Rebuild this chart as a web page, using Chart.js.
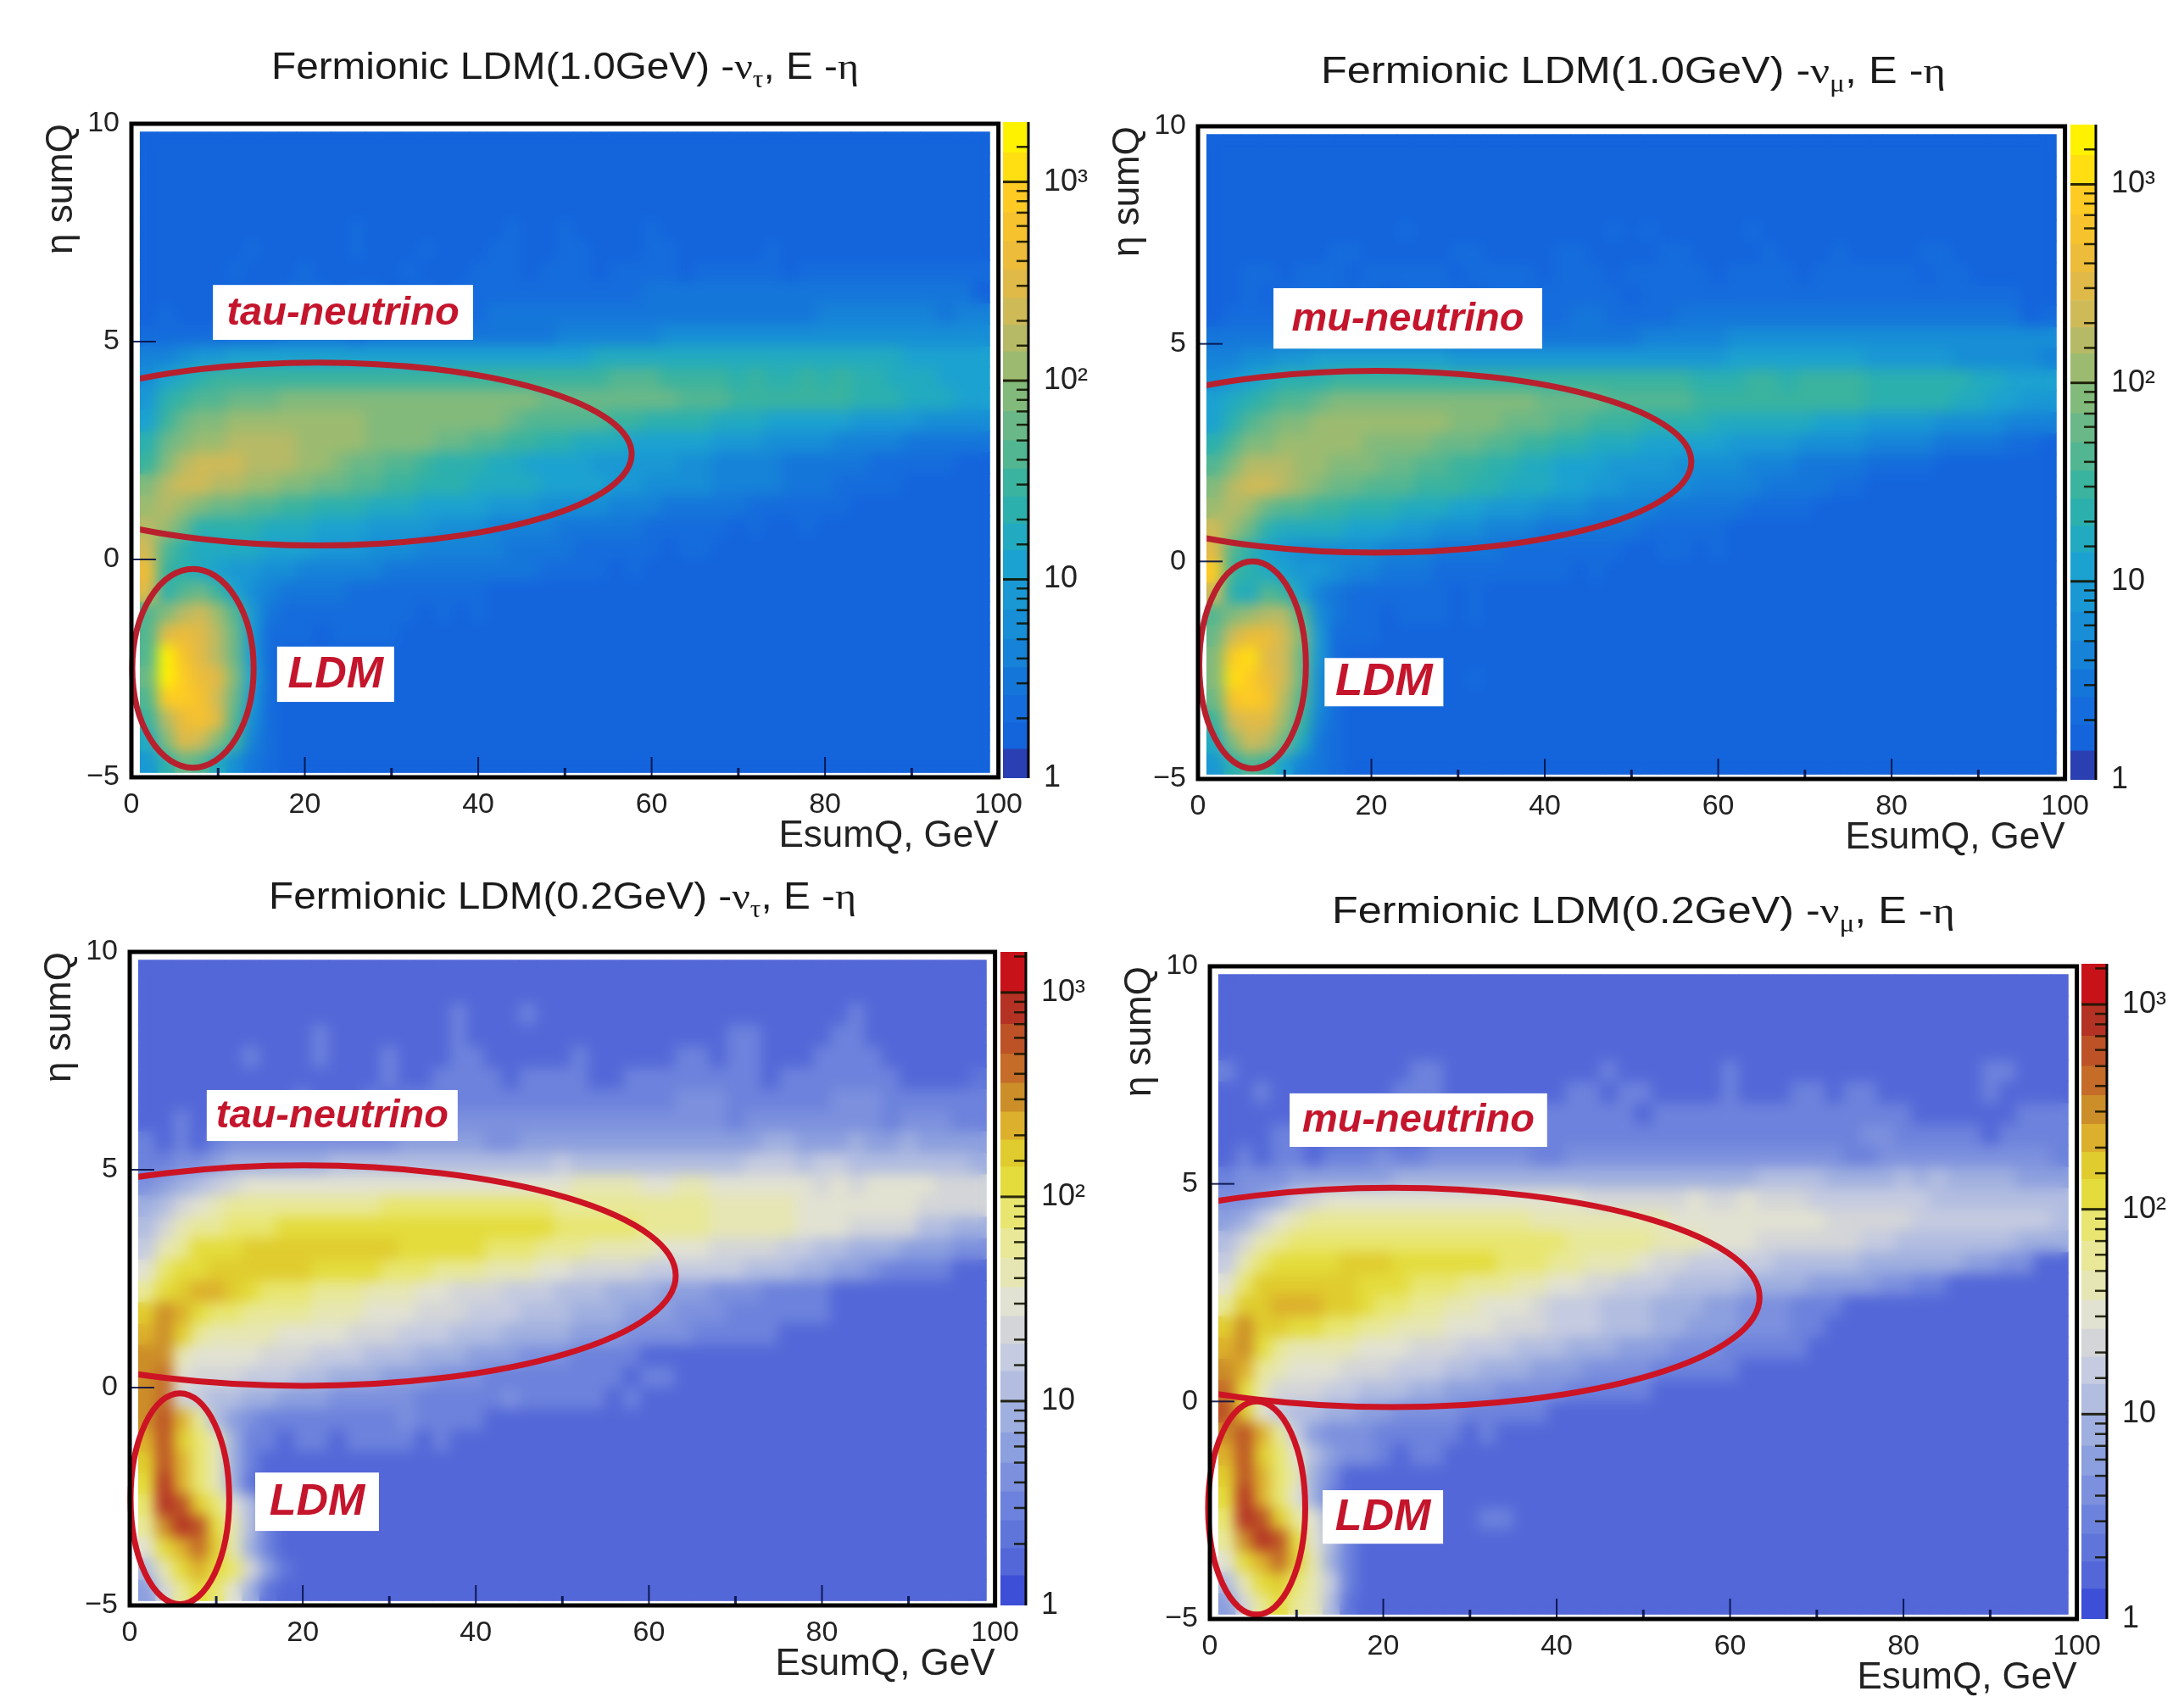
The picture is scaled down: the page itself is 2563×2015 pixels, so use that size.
<!DOCTYPE html>
<html>
<head>
<meta charset="utf-8">
<title>Fermionic LDM, E - eta</title>
<script src="https://cdn.jsdelivr.net/npm/chart.js@4"></script>
<style>
  html, body { margin: 0; padding: 0; background: #fff; }
  #page { position: relative; width: 2563px; height: 2015px; overflow: hidden; }
  canvas { position: absolute; }
  .title { position: absolute; white-space: nowrap; font: 44px "Liberation Sans", sans-serif; color: #1a1a1a; transform-origin: left center; line-height: 50px; }
  .title i { font-family: "Liberation Serif", serif; font-style: normal; }
  .title sub { font-size: 29px; font-family: "Liberation Serif", serif; line-height: 0; }
</style>
</head>
<body>
<div id="page"></div>
<script>
// bin centres (GeV) and bin edges (eta) of the 2D histograms
const energyBins = [2,4,6,8,10,12,14,16,18,20,22,24,26,28,30,32,34,36,38,40,42,44,46,48,50,52,54,56,58,60,62,64,66,68,70,72,74,76,78,80,82,84,86,88,90,92,94,96,98];
const etaEdges = [-4.9,-4.41,-3.92,-3.43,-2.94,-2.45,-1.96,-1.47,-0.98,-0.49,0,0.49,0.98,1.47,1.96,2.45,2.94,3.43,3.92,4.41,4.9,5.39,5.88,6.37,6.86,7.35,7.84,8.33,8.82,9.31,9.8];

// colour bar bands: counts per bin, and the colour of each band
const bandEdges = [1,1.4,1.9,2.6,3.6,5,7,10,14,19,26,36,50,70,100,140,190,260,360,500,700,1000,1400,2000];
const heavyPalette = ['#2a40b2','#1464dc','#156cdc','#1576da','#1682d8','#178ed6','#1a98d4','#1ca2d0','#22aac0','#2cb0ae','#3ab39f','#52b692','#6ab888','#82ba7c','#9cbb70','#b6ba66','#cfba58','#e0ba48','#ecbc3a','#f6c22e','#fdcb24','#ffde12','#fff200'];
const lightPalette = ['#3d4fd6','#5367d8','#5f75da','#6c82dc','#7c90de','#8c9fde','#9fafdf','#b2bde0','#c5cbe0','#d3d5d8','#e2e2d2','#e6e6b4','#e8e898','#e8e670','#e4dc3c','#e0cc2e','#dcb02c','#cc8e28','#c46c28','#bc5226','#b43224','#c8121a','#c8121a'];

// histogram contents as colour band per bin, top row first ('.' is band 1, a = 10 ... m = 22)
const tauHeavyRows = [
  '','','','',
  '............2........2..2....2',
  '......2.....2...2...22..22...22.....2',
  '.....2...2.....2...222.222.2222.22222.22222222222',
  '........222.22..2.222222222223333333333333333333',
  '.2...2..22222222222233333333333333333334444444344',
  '2222222233332333333333334444445555555555555555555',
  '4456677777777777777777777788888888888888888877777',
  '5789aaaaaaaaaaaaaaaaaaaaaaabbbaaaa9a99a9a99888777',
  '69abbcccdddddddddddddddccccccccbbbaaaaaaa99988877',
  '7acddeeeeeeeeddddddddcbbbbbaa99998887777766665555',
  '9cdeeffffeeeeddddccbbaa99888777776665555444433333',
  'adfgggfffeedccbba999887777666665544443333322222',
  'dfggffeeddccbbaa9998888777766555544443332222',
  'efedccbbaa9998887777666555544433333222222',
  'fec9999888777666655544443333322222.2..2',
  'gb9888877766655544444333322222.22',
  'ia9876655444443333333332222.2',
  'h9bca754333322222222',
  'bdfgeb6322222222.2.2',
  'bhihfc6222.2222',
  'bmjhfc62',
  'cmkihd72',
  'bkkjgc62',
  'afijhb52',
  '8dhgda42',
  '69cb8532'
];
const muHeavyRows = [
  '','','','',
  '...........2...........2.2.....2',
  '.......22.....22....22....22....2...2....22',
  '..22.222.22222.2222.222.22222.2222.222222.22',
  '..2.222222.2222.22222222.2222222222222222222222',
  '.2222222222222223222233222233333333333333333333.2',
  '3333333333333333333333333444445555555555555555555',
  '4455667777777766666666666666667777777766666555554',
  '5678999aaaaaaaaaaaaaaaaaaaaa999aa9aaaa99999988777',
  '789abbcddddddddddddccccbbbbbaaaaaaaaaa99999887766',
  '79bcddeeeeeeeedddcccbbaaa999988888877766665555444',
  '9bddeeeeeddddcccbbaa9988877777666655554444333322',
  'bdfffeedddccbbaa99887776666555544433332222',
  'dfggfedccbbbaaa99888776655554444333322',
  'efecbbaa999888776665554444333332222',
  'gec988887776655544433333322222',
  'hb9765555544433332222222..22.2',
  'ka9876654433322222222.2',
  'g98ba743222222.2',
  'bdeffb5322.222.2',
  'cgiigd6222',
  'dklhgc62',
  'dlkigc52.......2',
  'cjkjfb52',
  'aghhea42',
  '8dgfc832',
  '69ba7432'
];
const tauLightRows = [
  '','',
  '..................3...3..................3',
  '..........3.......3...............33....33',
  '......3...3...3...33.....3.....33.33...3333',
  '..............3..3333.3333..33333333.3333333....2',
  '.........3...3.3333333333333333444333333444333333',
  '..3..33.33.33.44344444444444444444344444444344433',
  '3.3.344444444445555544555555555555556655565565555',
  '3344566666677777777777778777777777788878877777776',
  '456789aaaaaaaaaaaaaaaaaaabbbbaabbaaaaaa9a9aaaa999',
  '679abcccccccccddddddddddcccccccccbbbbbaaaaaaa9999',
  '79bccdddeeeeeeeeeeeeeeeedddddccccbbbbbaaa99997766',
  '8bceeefffffffffeeeeedddcccbbbbaaa9999887766655544',
  'adeeffffffeeeedddcccbbbaa9999888888777665543333',
  'cefggfedddcccbbbaa9998887776665554443333',
  'fhgeddccccbbbaaa999888777666555444333333',
  'ghfcbbbbaaaa9998887776666555444433333',
  'hhbaaaa9998887776665554443333',
  'hia9998887766655544433333333.33',
  'hi9877665554444433333433333.3',
  'hjgc7543333333343333',
  'gjfdb633.33.3333.3',
  'fjgdb63',
  'ekgdb62',
  'dkjfda73',
  'chkjeb73',
  'aegifb63',
  '7beged952',
  '59ceda62'
];
const muLightRows = [
  '','','','',
  '3..........33.........3......3..............33',
  '..3.......333.......33.33....3...33.33......3',
  '.........3.......3333333.333333333333333......333',
  '...33.......33333333333333333333333334433333.3333',
  '.3.33.3334334444443344444444444444443344444444443',
  '3444555555666666666666666666666777766667676666555',
  '445689aaaaaaaaaaaaaaa999999a99a999888888877777777',
  '568abcccccccccccccbbbbbbbbaaaaaaaaa99999888888887',
  '79bcddddddddddddddddcccccbbbaaa999999887777777666',
  '8bdeeeefffeeeeeedddccbbba9988888777776666665544',
  'adffffffeeedddcccbbaa998887777666655554433',
  'cffgggffeddccbbaaa988877766655444333',
  'fhffeeddccbbbaaa9998887776655544433',
  'ghecbbbbaaa99988877766655544433333',
  'hgcbaaa99988877666555444433333',
  'ieb9998877766555444433333',
  'jfa8776655444433333',
  'hjgc8544433333.3',
  'gjfda75443.33',
  'fjgdb64',
  'ekgda63',
  'dkjfca63.......33',
  'chkjea73',
  'aegifb63',
  '7befdb83',
  '59cecb72'
];

const yTickLabels = { '-5': '\u22125', '0': '0', '5': '5', '10': '10' };
const barTickLabels = { 1: '1', 10: '10', 100: '10\u00b2', 1000: '10\u00b3' };

const FONT = '"Liberation Sans", sans-serif';
const page = document.getElementById('page');

function makeCanvas(left, top, width, height) {
  const c = document.createElement('canvas');
  c.width = width;
  c.height = height;
  c.style.left = left + 'px';
  c.style.top = top + 'px';
  c.style.width = width + 'px';
  c.style.height = height + 'px';
  page.appendChild(c);
  return c;
}

function rowDatasets(rows, palette) {
  return rows.map((row, i) => {
    const lo = etaEdges[rows.length - 1 - i];
    const hi = etaEdges[rows.length - i];
    const levels = energyBins.map((_, k) => {
      const ch = row[k];
      return !ch || ch === '.' ? 1 : parseInt(ch, 36);
    });
    return {
      data: energyBins.map(x => ({ x, y: [lo, hi + 0.02] })),
      backgroundColor: levels.map(l => palette[l]),
      borderWidth: 0,
      borderSkipped: false,
      categoryPercentage: 1,
      barPercentage: 1.03,
      grouped: false
    };
  });
}

// smooths the bins, then puts the ellipses, labels, ticks and frame on top
const decorPlugin = {
  id: 'decor',
  afterDatasetsDraw(chart, args, opts) {
    const { ctx, canvas, scales: { x, y }, chartArea: a } = chart;
    const off = document.createElement('canvas');
    off.width = canvas.width;
    off.height = canvas.height;
    off.getContext('2d').drawImage(canvas, 0, 0);
    const hx = x.getPixelForValue(1) , hy = y.getPixelForValue(9.8);
    const hw = x.getPixelForValue(99) - hx, hh = y.getPixelForValue(-4.9) - hy;
    ctx.save();
    ctx.beginPath();
    ctx.rect(hx, hy, hw, hh);
    ctx.clip();
    ctx.filter = 'blur(' + opts.blur + 'px)';
    ctx.drawImage(off, 0, 0);
    ctx.restore();

    // ticks point into the plot
    ctx.save();
    ctx.strokeStyle = 'rgba(5,15,70,0.9)';
    ctx.lineWidth = 2;
    x.ticks.forEach(t => {
      const px = x.getPixelForValue(t.value);
      if (t.value === 0 || t.value === 100) return;
      ctx.lineWidth = t.value % 20 === 0 ? 2 : 3;
      ctx.beginPath();
      ctx.moveTo(px, a.bottom);
      ctx.lineTo(px, a.bottom - (t.value % 20 === 0 ? 24 : 11));
      ctx.stroke();
    });
    ctx.lineWidth = 2;
    [0, 5].forEach(v => {
      const py = y.getPixelForValue(v);
      ctx.beginPath();
      ctx.moveTo(a.left, py);
      ctx.lineTo(a.left + 29, py);
      ctx.stroke();
    });
    ctx.restore();

    opts.ellipses.forEach(e => {
      const cx = x.getPixelForValue(e.cx), cy = y.getPixelForValue(e.cy);
      ctx.save();
      ctx.beginPath();
      ctx.rect(e.clip ? hx : 0, 0, canvas.width, canvas.height);
      ctx.clip();
      ctx.beginPath();
      ctx.ellipse(cx, cy, x.getPixelForValue(e.cx + e.rx) - cx, cy - y.getPixelForValue(e.cy + e.ry), 0, 0, Math.PI * 2);
      ctx.strokeStyle = opts.ringColor;
      ctx.lineWidth = 7;
      ctx.stroke();
      ctx.restore();
    });

    opts.labels.forEach(l => {
      const x0 = x.getPixelForValue(l.x0), x1 = x.getPixelForValue(l.x1);
      const y0 = y.getPixelForValue(l.y0), y1 = y.getPixelForValue(l.y1);
      ctx.save();
      ctx.fillStyle = '#fff';
      ctx.fillRect(x0, y0, x1 - x0, y1 - y0);
      ctx.fillStyle = '#c4152c';
      ctx.font = 'italic bold ' + l.size + 'px ' + FONT;
      ctx.textAlign = 'center';
      ctx.textBaseline = 'middle';
      ctx.fillText(l.text, (x0 + x1) / 2, (y0 + y1) / 2 + 1);
      ctx.restore();
    });

    ctx.save();
    ctx.strokeStyle = '#000';
    ctx.lineWidth = 5;
    ctx.strokeRect(a.left, a.top, a.right - a.left, a.bottom - a.top);
    ctx.restore();
  }
};

// minor and major log ticks of the colour bar, drawn inside it
const barTicksPlugin = {
  id: 'barTicks',
  afterDatasetsDraw(chart) {
    const { ctx, scales: { y }, chartArea: a } = chart;
    ctx.save();
    ctx.strokeStyle = 'rgba(20,20,0,0.9)';
    y.ticks.forEach(t => {
      const py = y.getPixelForValue(t.value);
      const major = barTickLabels[t.value] !== undefined;
      if (t.value === 1 || t.value === y.max) return;
      ctx.lineWidth = major ? 3 : 2.5;
      ctx.beginPath();
      ctx.moveTo(a.right, py);
      ctx.lineTo(major ? a.left : a.right - 14, py);
      ctx.stroke();
    });
    ctx.strokeStyle = '#000';
    ctx.lineWidth = 3;
    ctx.beginPath();
    ctx.moveTo(a.right, a.top);
    ctx.lineTo(a.right, a.bottom);
    ctx.stroke();
    ctx.restore();
  }
};

function drawPanel(p) {
  const L = 140, T = 40, R = 30, B = 115;
  const w = p.x100 - p.x0, h = p.yBottom - p.yTop;
  const canvas = makeCanvas(p.x0 - L, p.yTop - T, w + L + R, h + T + B);
  new Chart(canvas, {
    type: 'bar',
    data: { datasets: rowDatasets(p.rows, p.palette) },
    plugins: [decorPlugin],
    options: {
      responsive: false,
      animation: false,
      parsing: { xAxisKey: 'x', yAxisKey: 'y' },
      layout: { padding: { top: T, right: R, left: 0, bottom: 0 } },
      plugins: {
        legend: { display: false },
        tooltip: { enabled: false },
        decor: { blur: 8, ellipses: p.ellipses, labels: p.labels, ringColor: p.ringColor }
      },
      scales: {
        x: {
          type: 'linear', min: 0, max: 100, offset: false,
          afterFit(s) { s.height = B; },
          grid: { display: false, offset: false },
          border: { display: false },
          ticks: {
            stepSize: 10, autoSkip: false, maxRotation: 0, padding: 4,
            color: '#222', font: { family: FONT, size: 34 },
            callback: v => (v % 20 === 0 ? String(v) : '')
          },
          title: {
            display: true, text: 'EsumQ, GeV', align: 'end', color: '#222',
            font: { family: FONT, size: 44 }, padding: { top: 0, bottom: 19 }
          }
        },
        y: {
          type: 'linear', min: -5, max: 10,
          afterFit(s) { s.width = L; },
          grid: { display: false },
          border: { display: false },
          ticks: {
            stepSize: 5, padding: 6, color: '#222', font: { family: FONT, size: 34 },
            callback: v => yTickLabels[v]
          },
          title: {
            display: true, text: '\u03b7 sumQ', align: 'end', color: '#222',
            font: { family: FONT, size: 44 }, padding: { top: 31, bottom: 0 }
          }
        }
      }
    }
  });

  const barW = p.barRight - p.barLeft, barH = p.barBottom - p.barTop;
  const barCanvas = makeCanvas(p.barLeft, p.barTop - 50, barW + 90, barH + 100);
  const bands = p.palette.map((c, i) => ({
    data: [[bandEdges[i], bandEdges[i + 1]]],
    backgroundColor: c,
    borderWidth: 0,
    borderSkipped: false,
    categoryPercentage: 1,
    barPercentage: 1,
    grouped: false
  }));
  new Chart(barCanvas, {
    type: 'bar',
    data: { labels: ['counts'], datasets: bands },
    plugins: [barTicksPlugin],
    options: {
      responsive: false,
      animation: false,
      layout: { padding: { top: 50, bottom: 50, left: 0, right: 0 } },
      plugins: { legend: { display: false }, tooltip: { enabled: false } },
      scales: {
        x: { display: false },
        y: {
          type: 'logarithmic', position: 'right', min: 1, max: p.barMax,
          afterFit(s) { s.width = 90; },
          grid: { display: false },
          border: { display: false },
          ticks: {
            autoSkip: false, padding: 10, color: '#222', font: { family: FONT, size: 36 },
            callback: v => barTickLabels[v] || ''
          }
        }
      }
    }
  });

  const t = document.createElement('div');
  t.className = 'title';
  t.innerHTML = p.title + ' -<i>\u03bd</i><sub>' + p.flavour + '</sub>, E -<i>\u03b7</i>';
  t.style.left = p.titleX + 'px';
  t.style.top = (p.titleY - 25) + 'px';
  page.appendChild(t);
  t.style.transform = 'scaleX(' + (p.titleW / t.offsetWidth) + ')';
}

drawPanel({
  rows: tauHeavyRows, palette: heavyPalette, ringColor: '#b8202e',
  x0: 155, x100: 1180, yTop: 146, yBottom: 917,
  barLeft: 1183, barRight: 1213, barTop: 144, barBottom: 918, barMax: 2000,
  title: 'Fermionic LDM(1.0GeV)', flavour: '\u03c4', titleX: 320, titleY: 78, titleW: 693,
  ellipses: [{ cx: 21.5, cy: 2.42, rx: 36.2, ry: 2.1, clip: true }, { cx: 7.1, cy: -2.5, rx: 7, ry: 2.28 }],
  labels: [
    { x0: 9.4, x1: 39.4, y0: 6.3, y1: 5.04, text: 'tau-neutrino', size: 47 },
    { x0: 16.8, x1: 30.3, y0: -2.0, y1: -3.27, text: 'LDM', size: 52 }
  ]
});
drawPanel({
  rows: muHeavyRows, palette: heavyPalette, ringColor: '#b8202e',
  x0: 1413, x100: 2438, yTop: 149, yBottom: 919,
  barLeft: 2442, barRight: 2472, barTop: 147, barBottom: 920, barMax: 2000,
  title: 'Fermionic LDM(1.0GeV)', flavour: '\u03bc', titleX: 1558, titleY: 83, titleW: 737,
  ellipses: [{ cx: 20.6, cy: 2.29, rx: 36.3, ry: 2.09, clip: true }, { cx: 6.3, cy: -2.38, rx: 6.15, ry: 2.38 }],
  labels: [
    { x0: 8.7, x1: 39.7, y0: 6.28, y1: 4.89, text: 'mu-neutrino', size: 47 },
    { x0: 14.6, x1: 28.3, y0: -2.22, y1: -3.33, text: 'LDM', size: 53 }
  ]
});
drawPanel({
  rows: tauLightRows, palette: lightPalette, ringColor: '#cc1424',
  x0: 153, x100: 1176, yTop: 1123, yBottom: 1894,
  barLeft: 1180, barRight: 1210, barTop: 1123, barBottom: 1894, barMax: 1580,
  title: 'Fermionic LDM(0.2GeV)', flavour: '\u03c4', titleX: 317, titleY: 1057, titleW: 693,
  ellipses: [{ cx: 20.1, cy: 2.57, rx: 43, ry: 2.53, clip: true }, { cx: 5.8, cy: -2.55, rx: 5.7, ry: 2.42 }],
  labels: [
    { x0: 8.9, x1: 37.9, y0: 6.83, y1: 5.66, text: 'tau-neutrino', size: 47 },
    { x0: 14.5, x1: 28.8, y0: -1.95, y1: -3.29, text: 'LDM', size: 52 }
  ]
});
drawPanel({
  rows: muLightRows, palette: lightPalette, ringColor: '#cc1424',
  x0: 1427, x100: 2452, yTop: 1140, yBottom: 1910,
  barLeft: 2455, barRight: 2485, barTop: 1137, barBottom: 1910, barMax: 1580,
  title: 'Fermionic LDM(0.2GeV)', flavour: '\u03bc', titleX: 1571, titleY: 1074, titleW: 735,
  ellipses: [{ cx: 21, cy: 2.39, rx: 42.4, ry: 2.52, clip: true }, { cx: 5.4, cy: -2.45, rx: 5.6, ry: 2.45 }],
  labels: [
    { x0: 9.2, x1: 38.9, y0: 7.08, y1: 5.85, text: 'mu-neutrino', size: 47 },
    { x0: 13, x1: 26.9, y0: -2.04, y1: -3.27, text: 'LDM', size: 52 }
  ]
});
</script>
</body>
</html>
